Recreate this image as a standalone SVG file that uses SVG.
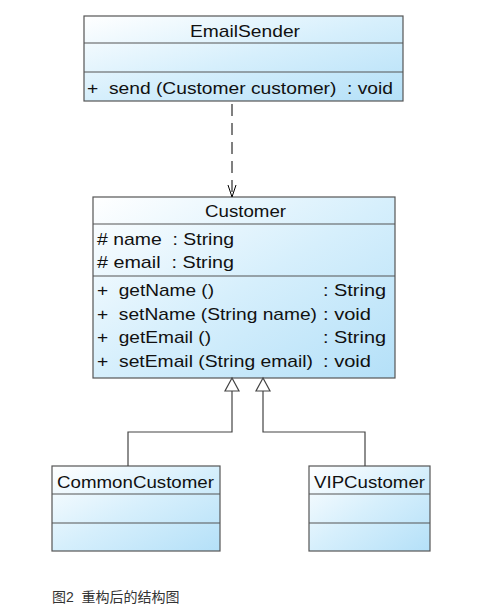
<svg xmlns="http://www.w3.org/2000/svg" width="496" height="611" viewBox="0 0 496 611">
<defs>
<linearGradient id="g" x1="0" y1="0" x2="1" y2="1">
<stop offset="0" stop-color="#ffffff"/>
<stop offset="0.5" stop-color="#d6effc"/>
<stop offset="1" stop-color="#b4e0f8"/>
</linearGradient>
</defs>
<style>
.box{fill:url(#g);stroke:#555;stroke-width:1.2}
.ln{stroke:#555;stroke-width:1.2}
.t{font-family:"Liberation Sans",Arial,sans-serif;font-size:17px;fill:#111;white-space:pre}
.c{text-anchor:middle}
.con{fill:none;stroke:#444;stroke-width:1.2}
.cap{font-family:"Liberation Sans","Noto Sans CJK SC",sans-serif;font-size:14px;fill:#333;white-space:pre}
</style>
<rect width="496" height="611" fill="#fff"/>
<g id="EmailSender">
<rect class="box" x="84" y="16" width="319" height="85"/>
<line class="ln" x1="84" y1="43" x2="403" y2="43"/>
<line class="ln" x1="84" y1="72" x2="403" y2="72"/>
<text class="t" x="190" y="37" textLength="110" lengthAdjust="spacingAndGlyphs">EmailSender</text>
<text class="t" x="87" y="94" textLength="306" lengthAdjust="spacingAndGlyphs">+  send (Customer customer)  : void</text>
</g>
<g id="Customer">
<rect class="box" x="93" y="197" width="302" height="181"/>
<line class="ln" x1="93" y1="224" x2="395" y2="224"/>
<line class="ln" x1="93" y1="276" x2="395" y2="276"/>
<text class="t" x="205" y="217" textLength="81" lengthAdjust="spacingAndGlyphs">Customer</text>
<text class="t" x="97" y="245" textLength="137" lengthAdjust="spacingAndGlyphs"># name  : String</text>
<text class="t" x="97" y="268" textLength="137" lengthAdjust="spacingAndGlyphs"># email  : String</text>
<text class="t" x="97" y="296" textLength="117" lengthAdjust="spacingAndGlyphs">+  getName ()</text>
<text class="t" x="323" y="296" textLength="63" lengthAdjust="spacingAndGlyphs">: String</text>
<text class="t" x="97" y="319.5" textLength="220" lengthAdjust="spacingAndGlyphs">+  setName (String name)</text>
<text class="t" x="323" y="319.5" textLength="48" lengthAdjust="spacingAndGlyphs">: void</text>
<text class="t" x="97" y="343" textLength="114" lengthAdjust="spacingAndGlyphs">+  getEmail ()</text>
<text class="t" x="323" y="343" textLength="63" lengthAdjust="spacingAndGlyphs">: String</text>
<text class="t" x="97" y="367" textLength="216" lengthAdjust="spacingAndGlyphs">+  setEmail (String email)</text>
<text class="t" x="323" y="367" textLength="48" lengthAdjust="spacingAndGlyphs">: void</text>
</g>
<g id="CommonCustomer">
<rect class="box" x="52" y="466" width="168" height="85"/>
<line class="ln" x1="52" y1="494" x2="220" y2="494"/>
<line class="ln" x1="52" y1="523" x2="220" y2="523"/>
<text class="t" x="57" y="488" textLength="157" lengthAdjust="spacingAndGlyphs">CommonCustomer</text>
</g>
<g id="VIPCustomer">
<rect class="box" x="309" y="466" width="121" height="85"/>
<line class="ln" x1="309" y1="494" x2="430" y2="494"/>
<line class="ln" x1="309" y1="523" x2="430" y2="523"/>
<text class="t" x="314" y="488" textLength="111" lengthAdjust="spacingAndGlyphs">VIPCustomer</text>
</g>
<g id="connectors">
<line x1="232" y1="104" x2="232" y2="196" stroke="#000" stroke-width="1" stroke-dasharray="12,7"/>
<path d="M228,185 L232,197 L236,185" fill="none" stroke="#000" stroke-width="1"/>
<polyline class="con" points="128,466 128,432 232,432 232,391"/>
<polygon points="232,378 225,391 239,391" fill="#fff" stroke="#444" stroke-width="1.2"/>
<polyline class="con" points="365,466 365,432 263,432 263,391"/>
<polygon points="263,378 256,391 270,391" fill="#fff" stroke="#444" stroke-width="1.2"/>
</g>
<text class="cap" x="52" y="602">图2  重构后的结构图</text>
</svg>
